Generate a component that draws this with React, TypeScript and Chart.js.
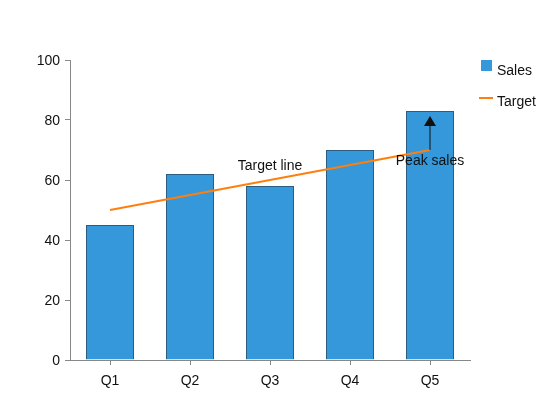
import React, { useEffect, useRef } from "react";
import { Chart, registerables } from "chart.js";

Chart.register(...registerables);

const categories = ["Q1", "Q2", "Q3", "Q4", "Q5"];
const salesValues = [45, 62, 58, 70, 83];
const targetValues = [50, 55, 60, 65, 70];
const yTicks = [0, 20, 40, 60, 80, 100];
const textNotes = [
  { text: "Target line", category: "Q3", value: 64.7 },
  { text: "Peak sales", category: "Q5", value: 66.3 },
];
const arrowNote = { category: "Q5", from: 70, to: 81.3 };

const FONT = "'Liberation Sans', Arial, sans-serif";
const BLUE = "#3498db";
const ORANGE = "#ff7f0e";
const INK = "#111111";
const AXIS = "#888888";

const overlayPlugin = {
  id: "overlay",
  afterDatasetsDraw(chart: any) {
    const ctx = chart.ctx;
    const x = chart.scales.x;
    const y = chart.scales.y;
    ctx.save();
    ctx.font = `14px ${FONT}`;
    ctx.fillStyle = INK;
    ctx.textAlign = "center";
    ctx.textBaseline = "middle";
    // arrow
    const ax = x.getPixelForValue(categories.indexOf(arrowNote.category));
    const y0 = y.getPixelForValue(arrowNote.from);
    const y1 = y.getPixelForValue(arrowNote.to);
    ctx.strokeStyle = INK;
    ctx.lineWidth = 1;
    ctx.beginPath();
    ctx.moveTo(ax, y0);
    ctx.lineTo(ax, y1 + 8);
    ctx.stroke();
    ctx.beginPath();
    ctx.moveTo(ax, y1);
    ctx.lineTo(ax - 6, y1 + 10);
    ctx.lineTo(ax + 6, y1 + 10);
    ctx.closePath();
    ctx.fill();
    for (const n of textNotes) {
      const px = x.getPixelForValue(categories.indexOf(n.category));
      const py = y.getPixelForValue(n.value);
      ctx.fillText(n.text, px, py);
    }
    // legend
    const ds = chart.data.datasets;
    const lx = chart.chartArea.right + 10;
    ctx.textAlign = "left";
    ctx.fillStyle = ds[0].backgroundColor;
    ctx.fillRect(lx + 1, 60, 11, 11);
    ctx.fillStyle = INK;
    ctx.fillText(ds[0].label, lx + 17, 71);
    ctx.strokeStyle = ds[1].borderColor;
    ctx.lineWidth = 2;
    ctx.beginPath();
    ctx.moveTo(lx - 1, 98);
    ctx.lineTo(lx + 13, 98);
    ctx.stroke();
    ctx.fillText(ds[1].label, lx + 17, 102);
    ctx.restore();
  },
};

export default function App() {
  const ref = useRef<HTMLCanvasElement>(null);
  useEffect(() => {
    document.body.style.margin = "0";
    const chart = new Chart(ref.current!, {
      type: "bar",
      data: {
        labels: categories,
        datasets: [
          {
            type: "bar",
            label: "Sales",
            data: salesValues,
            backgroundColor: BLUE,
            borderColor: "#2c5d80",
            borderWidth: 1,
            categoryPercentage: 1,
            barPercentage: 0.6,
            order: 2,
          },
          {
            type: "line",
            label: "Target",
            data: targetValues,
            borderColor: ORANGE,
            backgroundColor: ORANGE,
            borderWidth: 2,
            pointRadius: 0,
            tension: 0,
            order: 1,
          } as any,
        ],
      },
      options: {
        animation: false,
        responsive: false,
        maintainAspectRatio: false,
        layout: { padding: { left: 0, top: 60, right: 78, bottom: 0 } },
        plugins: { legend: { display: false }, tooltip: { enabled: false } },
        scales: {
          x: {
            offset: true,
            grid: { offset: false, drawOnChartArea: false, drawTicks: true, tickLength: 5, color: AXIS },
            border: { color: AXIS },
            ticks: { color: INK, font: { family: FONT, size: 14 }, padding: 8 },
            afterFit: (s: any) => { s.height = 37; },
          },
          y: {
            min: 0,
            max: 100,
            afterBuildTicks: (s: any) => { s.ticks = yTicks.map((v) => ({ value: v })); },
            grid: { drawOnChartArea: false, drawTicks: true, tickLength: 5, color: AXIS },
            border: { color: AXIS },
            ticks: { color: INK, font: { family: FONT, size: 14 }, padding: 5, labelOffset: 1.5 },
            afterFit: (s: any) => { s.width = 70; },
          },
        },
      },
      plugins: [overlayPlugin],
    });
    return () => chart.destroy();
  }, []);
  return (
    <div style={{ width: 548, height: 397 }}>
      <canvas ref={ref} width={548} height={397} style={{ display: "block" }} />
    </div>
  );
}
